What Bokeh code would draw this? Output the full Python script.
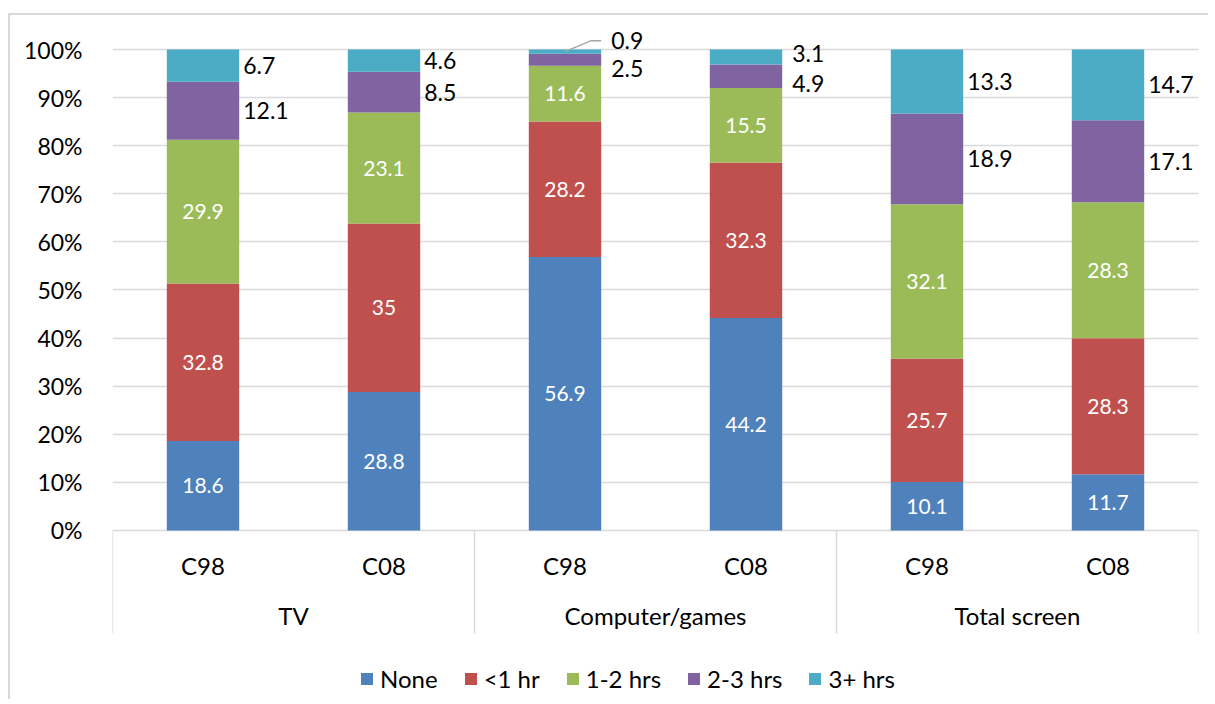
import numpy as np
from bokeh.plotting import figure
from bokeh.models import (FactorRange, Range1d, FixedTicker, NumeralTickFormatter,
                          ColumnDataSource, Legend, LegendItem)
from bokeh.core.properties import value
from bokeh.embed import file_html
from bokeh.resources import INLINE

# ---------------- data ----------------
groups = ["TV", "Computer/games", "Total screen"]
cohorts = ["C98", "C08"]
series = ["None", "<1 hr", "1-2 hrs", "2-3 hrs", "3+ hrs"]
none_vals = [18.6, 28.8, 56.9, 44.2, 10.1, 11.7]
lt1_vals = [32.8, 35.0, 28.2, 32.3, 25.7, 28.3]
h12_vals = [29.9, 23.1, 11.6, 15.5, 32.1, 28.3]
h23_vals = [12.1, 8.5, 2.5, 4.9, 18.9, 17.1]
h3p_vals = [6.7, 4.6, 0.9, 3.1, 13.3, 14.7]
y_ticks = [0, 0.1, 0.2, 0.3, 0.4, 0.5, 0.6, 0.7, 0.8, 0.9, 1.0]
colors = ["#4F81BD", "#C0504D", "#9BBB59", "#8064A2", "#4BACC6"]

FONT = "Lato"
all_vals = [none_vals, lt1_vals, h12_vals, h23_vals, h3p_vals]
factors = [(g, c) for g in groups for c in cohorts]
n = len(factors)
totals = np.sum(np.array(all_vals), axis=0)
fracs = [np.array(v) / totals for v in all_vals]

data = {"x": factors}
for s, f in zip(series, fracs):
    data[s] = f
src = ColumnDataSource(data)

p = figure(x_range=FactorRange(factors=factors, factor_padding=0, group_padding=0,
                               range_padding=0),
           y_range=Range1d(-0.341, 1.0603),
           width=1200, height=686, output_backend="svg", toolbar_location=None,
           min_border_left=102, min_border_right=12, min_border_top=5,
           min_border_bottom=7)
p.styles = {"border-left": "2px solid #d9d9d9", "border-top": "2px solid #d9d9d9",
            "margin-left": "8px", "margin-top": "13px"}
p.outline_line_color = None
p.background_fill_color = "white"

renderers = p.vbar_stack(series, x="x", width=0.4, color=colors, line_color=None,
                         source=src)

# axes
p.xaxis.visible = False
p.xgrid.visible = False
p.yaxis.ticker = FixedTicker(ticks=y_ticks)
p.yaxis.formatter = NumeralTickFormatter(format="0%")
p.yaxis.axis_line_color = None
p.yaxis.major_tick_line_color = None
p.yaxis.minor_tick_line_color = None
p.yaxis.major_label_standoff = 24
p.yaxis.major_label_text_font = FONT
p.yaxis.major_label_text_font_size = "23px"
p.yaxis.major_label_text_color = "black"
p.ygrid.ticker = FixedTicker(ticks=y_ticks)
p.ygrid.grid_line_color = "#d9d9d9"
p.ygrid.grid_line_width = 1.5

# category labels & separators (drawn below the 0 line)
centers = np.arange(n) + 0.5
p.text(x=centers, y=[-0.0728] * n, text=[c for g, c in factors],
       text_font=value(FONT), text_font_size="24px", text_color="black",
       text_align="center", text_baseline="middle")
gcenters = np.arange(len(groups)) * len(cohorts) + len(cohorts) / 2
p.text(x=gcenters, y=[-0.1767] * len(groups), text=groups,
       text_font=value(FONT), text_font_size="24px", text_color="black",
       text_align="center", text_baseline="middle")
seps = np.arange(len(groups) + 1) * len(cohorts)
p.segment(x0=seps, y0=[0] * len(seps), x1=seps, y1=[-0.214] * len(seps),
          line_color="#d9d9d9", line_width=1.5)

# data labels
cum = np.zeros(n)
in_x, in_y, in_t = [], [], []
out_x, out_y, out_t, out_dy, out_dx = [], [], [], [], []
mids = []
for k, (vals, f) in enumerate(zip(all_vals, fracs)):
    mid = cum + f / 2
    mids.append(mid)
    for i in range(n):
        txt = f"{vals[i]:g}"
        if k < 3:
            in_x.append(centers[i]); in_y.append(mid[i]); in_t.append(txt)
        else:
            out_x.append(centers[i] + 0.2); out_y.append(mid[i]); out_t.append(txt)
            out_dy.append(0); out_dx.append(4)
    cum = cum + f

# small-label nudges (as Excel avoided overlaps)
nudge = {(3, 2): 9, (4, 2): -11, (3, 3): 7, (4, 3): -3}
for (k, i), dy in nudge.items():
    idx = (k - 3) * n + i
    out_dy[idx] = dy
    out_dx[idx] = 10

p.text(x=in_x, y=in_y, text=in_t, text_font=value(FONT), text_font_size="21px",
       text_color="white", text_align="center", text_baseline="middle")
p.text(x=out_x, y=out_y, text=out_t, x_offset=out_dx, y_offset=out_dy,
       text_font=value(FONT), text_font_size="23px", text_color="black",
       text_align="left", text_baseline="middle")

# leader line for the tiny 0.9 label
i = 2
ytop = mids[4][i]
ylab = ytop + 11 / 481
p.line(x=[centers[i], centers[i] + 0.145, centers[i] + 0.2],
       y=[ytop, ylab, ylab], line_color="#a6a6a6", line_width=1.5)

# legend
legend = Legend(items=[LegendItem(label=s, renderers=[r]) for s, r in zip(series, renderers)],
                orientation="horizontal", location=(247, 1))
legend.padding = 0
legend.margin = 0
legend.spacing = 25
legend.glyph_width = 15
legend.glyph_height = 15
legend.label_standoff = 6
legend.label_text_font = FONT
legend.label_text_font_size = "24px"
legend.label_text_color = "black"
legend.border_line_color = None
legend.background_fill_alpha = 0
p.add_layout(legend)

open("out.html", "w").write(file_html(p, INLINE))
